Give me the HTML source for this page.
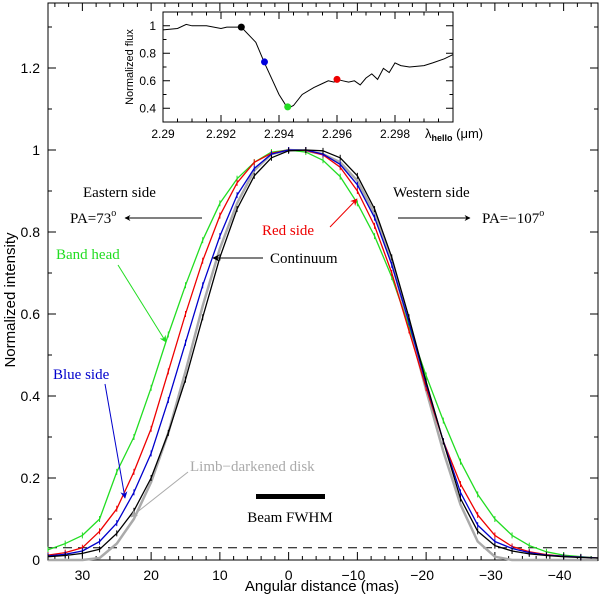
<!DOCTYPE html>
<html><head><meta charset="utf-8"><style>
body{margin:0;background:#fff}
svg{display:block}
text{font-family:"Liberation Sans",sans-serif}
.ann{font-family:"Liberation Serif",serif;font-size:15px}
</style></head><body>
<svg id="chart" width="600" height="597" viewBox="0 0 600 597" xmlns="http://www.w3.org/2000/svg">
<defs>
<marker id="ah" viewBox="0 0 10 10" refX="9" refY="5" markerWidth="7" markerHeight="7" orient="auto-start-reverse"><path d="M0,0 L10,5 L0,10 L3,5z" fill="context-stroke"/></marker>
<marker id="ahB" viewBox="0 0 10 10" refX="9" refY="5" markerWidth="6" markerHeight="6" orient="auto"><path d="M0,0 L10,5 L0,10 L3,5z" fill="#000"/></marker>
</defs>
<g id="main"></g>
<g id="inset"></g>
<g>
<text class="ann" x="83" y="197">Eastern side</text>
<text class="ann" x="70" y="223">PA=73<tspan font-size="10" dy="-7">o</tspan></text>
<line x1="202" y1="218" x2="125" y2="218" stroke="#000" stroke-width="1" marker-end="url(#ahB)"/>
<text class="ann" x="393" y="197">Western side</text>
<line x1="398" y1="218" x2="470" y2="218" stroke="#000" stroke-width="1" marker-end="url(#ahB)"/>
<text class="ann" x="482" y="223">PA=−107<tspan font-size="10" dy="-7">o</tspan></text>
<text class="ann" x="56" y="259" fill="#22dd22">Band head</text>
<line x1="118" y1="265" x2="166" y2="342" stroke="#22dd22" stroke-width="1" marker-end="url(#ah)"/>
<text class="ann" x="270" y="263">Continuum</text>
<line x1="263" y1="258" x2="213" y2="258" stroke="#000" stroke-width="1" marker-end="url(#ah)"/>
<text class="ann" x="262" y="235" fill="#ee0000">Red side</text>
<line x1="330" y1="227" x2="357" y2="199" stroke="#ee0000" stroke-width="1" marker-end="url(#ah)"/>
<text class="ann" x="53" y="379" fill="#0000cc">Blue side</text>
<line x1="105" y1="384" x2="125" y2="498" stroke="#0000cc" stroke-width="1" marker-end="url(#ah)"/>
<text class="ann" x="190" y="471" fill="#aaaaaa">Limb−darkened disk</text>
<line x1="188" y1="472" x2="131" y2="517" stroke="#aaaaaa" stroke-width="1" marker-end="url(#ah)"/>
<rect x="256" y="494" width="69" height="5" fill="#000"/>
<text class="ann" x="290" y="522" text-anchor="middle">Beam FWHM</text>
</g>
</svg>
<script>
// ---- main chart data ----
const xMas = [35,32.5,30,27.5,25,22.5,20,17.5,15,12.5,10,7.5,5,2.5,0,-2.5,-5,-7.5,-10,-12.5,-15,-17.5,-20,-22.5,-25,-27.5,-30,-32.5,-35,-37.5,-40,-42.5,-45];
const continuum = [.008,.011,.016,.026,.065,.12,.2,.31,.44,.592,.738,.856,.937,.981,.998,1,.998,.981,.937,.856,.738,.592,.435,.289,.15,.07,.035,.022,.015,.011,.008,.006,.005];
const blueSide = [.01,.014,.022,.045,.09,.165,.26,.39,.53,.67,.79,.89,.955,.99,1,1,.99,.965,.915,.835,.72,.58,.43,.29,.165,.085,.045,.028,.018,.012,.009,.007,.005];
const redSide = [.012,.018,.03,.07,.125,.215,.32,.46,.6,.73,.84,.92,.97,.992,1,.999,.988,.958,.9,.815,.7,.56,.42,.29,.185,.11,.06,.033,.02,.013,.009,.007,.005];
const bandHead = [.025,.04,.06,.1,.215,.3,.42,.55,.67,.78,.87,.93,.97,.995,1,.995,.975,.935,.87,.79,.69,.57,.45,.34,.24,.16,.1,.06,.035,.02,.012,.008,.005];
const limbDisk = [0,0,0,.005,.04,.1,.19,.31,.46,.62,.76,.87,.95,.99,1,.998,.99,.97,.925,.845,.725,.575,.415,.265,.135,.045,.008,0,0,0,0,0,0];
const xTicks = [30,20,10,0,-10,-20,-30,-40];
const yTicks = [0,0.2,0.4,0.6,0.8,1,1.2];
const yTickLabels = ["0","0.2","0.4","0.6","0.8","1","1.2"];
const floorLevel = 0.03;
// ---- inset data ----
const lam = [2.29,2.2905,2.2908,2.291,2.2915,2.292,2.2922,2.2927,2.2932,2.2935,2.294,2.2943,2.2945,2.2948,2.2952,2.2955,2.2957,2.2959,2.296,2.2962,2.2964,2.2966,2.2968,2.297,2.2972,2.2974,2.2976,2.2978,2.298,2.2982,2.2985,2.299,2.2993,2.2997,2.3];
const flux = [.97,.98,1.01,1.0,1.0,.98,.99,.99,.88,.73,.5,.4,.42,.5,.55,.58,.6,.59,.61,.6,.59,.6,.57,.62,.65,.61,.69,.66,.73,.71,.7,.71,.73,.76,.79];
const dotLam = [2.2927,2.2935,2.2943,2.2960];
const dotFlux = [0.99,0.737,0.41,0.61];
const dotColors = ["#000","#0000dd","#22dd22","#ee0000"];
const insetXTicks = [2.29,2.292,2.294,2.296,2.298];
const insetYTicks = [0.4,0.6,0.8,1];

const NS="http://www.w3.org/2000/svg";
function mk(tag,attrs,parent){const e=document.createElementNS(NS,tag);for(const k in attrs)e.setAttribute(k,attrs[k]);parent.appendChild(e);return e;}
const L=48,R=598,T=3,B=560;
const X=v=>L+(35-v)*(R-L)/80;
const Y=v=>B-v*410;
const main=document.getElementById('main');

const fr=mk('rect',{x:L,y:T,width:R-L,height:B-T,fill:'none',stroke:'#000','stroke-width':1},main);


for(let v=34;v>=-44;v-=2){const maj=v%10===0;const len=maj?8:4;
 const t1=mk('line',{x1:X(v),x2:X(v),y1:B,y2:B-len,stroke:'#000'},main);
 
 
 const t2=mk('line',{x1:X(v),x2:X(v),y1:T,y2:T+len,stroke:'#000'},main);
 
 }
for(let i=1;i<=13;i++){const v=i*0.1;const maj=i%2===0;const len=maj?8:4;
 const t1=mk('line',{x1:L,x2:L+len,y1:Y(v),y2:Y(v),stroke:'#000'},main);
 
 
 const t2=mk('line',{x1:R,x2:R-len,y1:Y(v),y2:Y(v),stroke:'#000'},main);
 
 }
xTicks.forEach(v=>{const t=mk('text',{x:X(v)-(v<0?4:0),y:580,'text-anchor':'middle','font-size':14},main);t.textContent=(v<0?'−':'')+Math.abs(v);
 
 });
yTicks.forEach((v,i)=>{const t=mk('text',{x:40,y:Y(v)+5,'text-anchor':'end','font-size':14},main);t.textContent=yTickLabels[i];
 
 });
const xl=mk('text',{x:322,y:591,'text-anchor':'middle','font-size':15,'font-family':'Liberation Serif, serif'},main);xl.textContent='Angular distance (mas)';


const yl=mk('text',{x:0,y:0,'text-anchor':'middle','font-size':15,'font-family':'Liberation Serif, serif',transform:'translate(15,300) rotate(-90)'},main);yl.textContent='Normalized intensity';


const dl=mk('line',{x1:L,x2:R,y1:Y(floorLevel),y2:Y(floorLevel),stroke:'#000','stroke-dasharray':'9,6'},main);



function series(vals,color,w,name,ticks){
 const d=vals.map((v,i)=>(i?'L':'M')+X(xMas[i]).toFixed(1)+','+Y(v).toFixed(1)).join(' ');
 const p=mk('path',{d:d,fill:'none',stroke:color,'stroke-width':w,'stroke-linejoin':'round'},main);
 
 
 if(ticks)vals.forEach((v,i)=>{const m=mk('line',{x1:X(xMas[i]),x2:X(xMas[i]),y1:Y(v)-3,y2:Y(v)+3,stroke:color,'stroke-width':1},main);
  
  });
}
series(limbDisk,'#aaaaaa',2.5,'limb-darkened-disk-line',false);
series(bandHead,'#22dd22',1.3,'band-head-line',true);
series(redSide,'#ee0000',1.3,'red-side-line',true);
series(blueSide,'#0000cc',1.3,'blue-side-line',true);
series(continuum,'#000000',1.3,'continuum-line',true);

// ---- inset ----
const ins=document.getElementById('inset');
const iL=163,iR=453,iT=12,iB=122;
const IX=v=>iL+(v-2.29)*(iR-iL)/0.01;
const IY=v=>iT+(1.1-v)*(iB-iT)/0.8;
const bg=mk('rect',{x:iL,y:iT,width:iR-iL,height:iB-iT,fill:'#fff',stroke:'#000'},ins);


for(let i=0;i<=20;i++){const v=2.29+i*0.0005;const maj=i%4===0;const len=maj?7:3.5;
 const t=mk('line',{x1:IX(v),x2:IX(v),y1:iB,y2:iB-len,stroke:'#000'},ins);
 
 
 const t2=mk('line',{x1:IX(v),x2:IX(v),y1:iT,y2:iT+len,stroke:'#000'},ins);
 
 }
for(let i=4;i<=10;i++){const v=i*0.1;const len=i%2===0?7:3.5;
 const t=mk('line',{x1:iL,x2:iL+len,y1:IY(v),y2:IY(v),stroke:'#000'},ins);
 
 
 const t2=mk('line',{x1:iR,x2:iR-len,y1:IY(v),y2:IY(v),stroke:'#000'},ins);
 
 }
insetXTicks.forEach(v=>{const t=mk('text',{x:IX(v),y:138,'text-anchor':'middle','font-size':12},ins);t.textContent=String(v);
 
 });
insetYTicks.forEach(v=>{const t=mk('text',{x:156,y:IY(v)+4,'text-anchor':'end','font-size':12},ins);t.textContent=String(v);
 
 });
const iyl=mk('text',{x:0,y:0,'text-anchor':'middle','font-size':11,'font-family':'Liberation Serif, serif',transform:'translate(133,67) rotate(-90)'},ins);iyl.textContent='Normalized flux';


const ixl=mk('text',{x:425,y:138,'font-size':13,'font-family':'Liberation Serif, serif'},ins);
ixl.innerHTML='λ<tspan font-size="9" font-weight="bold" dy="3">hello</tspan><tspan dy="-3"> (μm)</tspan>';


const sp=mk('path',{d:flux.map((v,i)=>(i?'L':'M')+IX(lam[i]).toFixed(1)+','+IY(v).toFixed(1)).join(' '),fill:'none',stroke:'#000','stroke-width':1},ins);


dotLam.forEach((v,i)=>{const c=mk('circle',{cx:IX(v),cy:IY(dotFlux[i]),r:3.5,fill:dotColors[i]},ins);
 
 });
</script>
</body></html>
